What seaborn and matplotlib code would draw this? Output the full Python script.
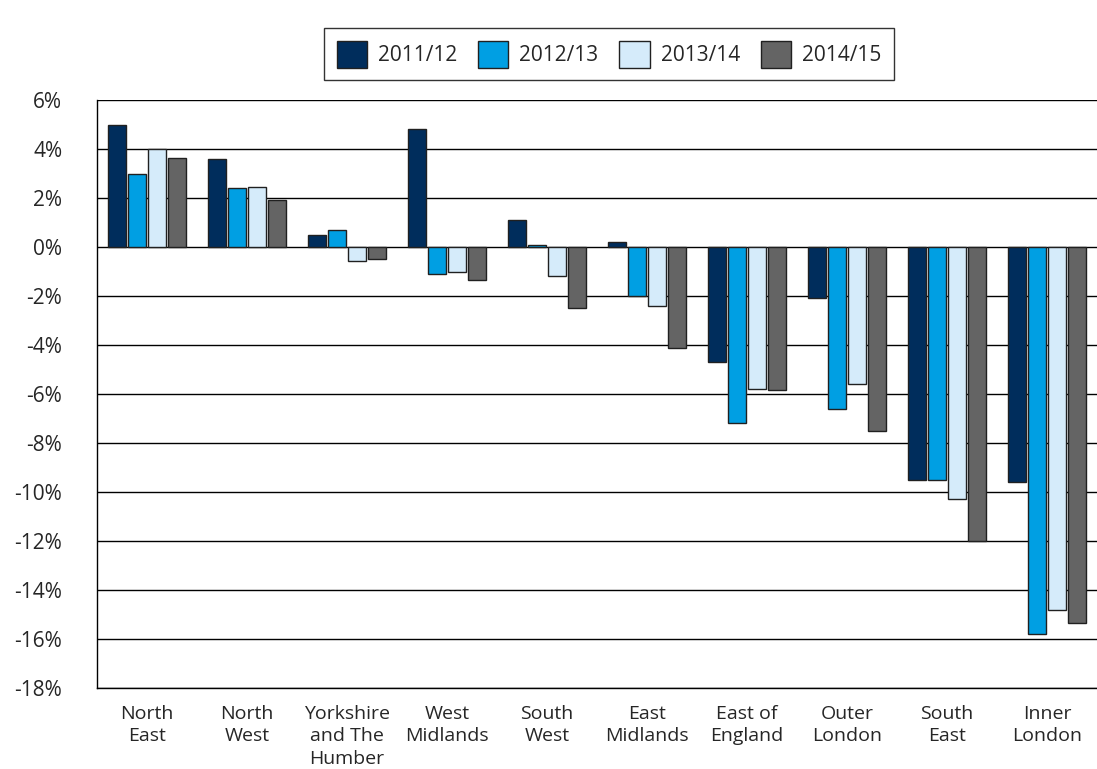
import numpy as np
import pandas as pd
import matplotlib
matplotlib.use("Agg")
import matplotlib.pyplot as plt
import seaborn as sb

regions = ["North\nEast", "North\nWest", "Yorkshire\nand The\nHumber", "West\nMidlands",
           "South\nWest", "East\nMidlands", "East of\nEngland", "Outer\nLondon",
           "South\nEast", "Inner\nLondon"]
years = ["2011/12", "2012/13", "2013/14", "2014/15"]

y2011 = [5.0, 3.6, 0.5, 4.8, 1.1, 0.2, -4.7, -2.1, -9.5, -9.6]
y2012 = [3.0, 2.4, 0.7, -1.1, 0.07, -2.0, -7.2, -6.6, -9.5, -15.8]
y2013 = [4.0, 2.45, -0.57, -1.02, -1.2, -2.4, -5.8, -5.6, -10.3, -14.8]
y2014 = [3.63, 1.9, -0.47, -1.35, -2.5, -4.13, -5.85, -7.5, -12.0, -15.35]

colours = ["#002D5C", "#009FE3", "#D5EBFA", "#646464"]

df = pd.DataFrame({"Region": regions, years[0]: y2011, years[1]: y2012,
                   years[2]: y2013, years[3]: y2014})
df = df.melt(id_vars="Region", var_name="Year", value_name="Change")

sb.set_style("white")
plt.rcParams["font.family"] = ["Open Sans", "DejaVu Sans"]

fig = plt.figure(figsize=(10.97, 7.69), dpi=100)
ax = fig.add_axes([97/1097, 1 - 688/769, 1 - 97/1097, (688 - 100)/769])

sb.barplot(data=df, x="Region", y="Change", hue="Year", palette=colours,
           saturation=1, width=0.8, edgecolor="#202020", linewidth=1.0,
           ax=ax, zorder=3)

# small gap between neighbouring bars
for p in ax.patches:
    w = p.get_width()
    p.set_x(p.get_x() + w * 0.04)
    p.set_width(w * 0.92)

ax.set_ylim(-18, 6)
ax.set_xlim(-0.5, len(regions) - 0.5)
ax.set_yticks(np.arange(-18, 7, 2))
ax.set_yticklabels([f"{v}%" for v in np.arange(-18, 7, 2)], fontsize=15)
ax.yaxis.grid(True, color="black", linewidth=1.0, zorder=0)
ax.set_axisbelow(True)
ax.set_xlabel("")
ax.set_ylabel("")

ax.set_xticks(range(len(regions)))
ax.set_xticklabels(regions, fontsize=14, linespacing=1.32)
ax.set_xticks(np.arange(-0.5, len(regions), 1), minor=True)
ax.tick_params(axis="x", which="major", length=0, pad=12)
ax.tick_params(axis="x", which="minor", length=14, width=1, color="black", direction="out")
ax.tick_params(axis="y", which="major", length=19, width=1, color="black", direction="out", pad=6)

for side in ["top", "right"]:
    ax.spines[side].set_visible(False)
ax.spines["left"].set_color("black")
ax.spines["bottom"].set_color("black")
ax.spines["left"].set_linewidth(1)
ax.spines["bottom"].set_linewidth(1)

ax.legend(loc="upper center", bbox_to_anchor=(609/1097, 1 - 18/769),
          bbox_transform=fig.transFigure, ncol=4, fontsize=15, frameon=True,
          fancybox=False, edgecolor="black", handlelength=1.45, handleheight=1.6,
          columnspacing=1.0, handletextpad=0.53, borderpad=0.6)
ax.get_legend().get_frame().set_linewidth(1)

fig.savefig("out.png", dpi=100)
